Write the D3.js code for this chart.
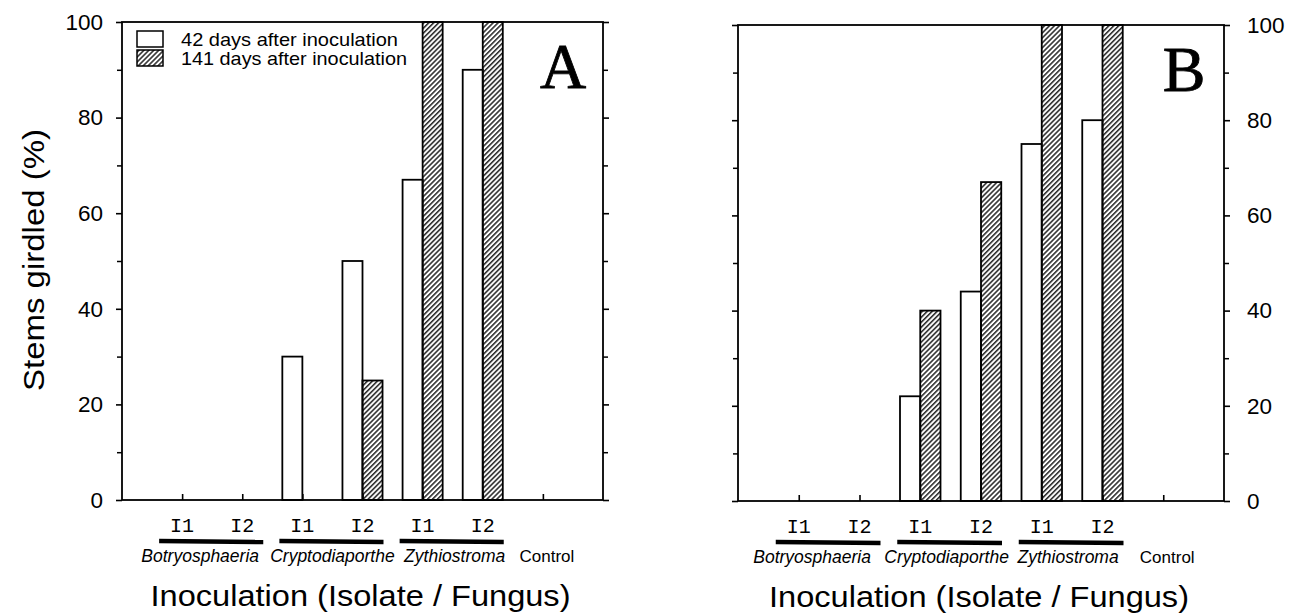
<!DOCTYPE html>
<html>
<head>
<meta charset="utf-8">
<script src="https://cdn.jsdelivr.net/npm/d3@7"></script>
<style>
  html, body { margin: 0; padding: 0; background: #fff; }
  svg { display: block; }
  text { font-family: "Liberation Sans", Arial, Helvetica, sans-serif; fill: #000; }
</style>
</head>
<body>
<svg id="chart" width="1302" height="614"></svg>
<script>
// ---------- data ----------
const isolates = ["I1", "I2", "I1", "I2", "I1", "I2", "Control"];
const fungi = ["Botryosphaeria", "Cryptodiaporthe", "Zythiostroma"];
const seriesNames = ["42 days after inoculation", "141 days after inoculation"];
const panelA_42 = [0, 0, 30, 50, 67, 90, 0];
const panelA_141 = [0, 0, 0, 25, 100, 100, 0];
const panelB_42 = [0, 0, 22, 44, 75, 80, 0];
const panelB_141 = [0, 0, 40, 67, 100, 100, 0];
const yTicks = [0, 20, 40, 60, 80, 100];
const yMinorTicks = [10, 30, 50, 70, 90];
const yTitle = "Stems girdled  (%)";
const xTitle = "Inoculation  (Isolate / Fungus)";

// ---------- drawing ----------
const svg = d3.select("#chart");
const defs = svg.append("defs");
defs.append("pattern")
  .attr("id", "hatch")
  .attr("patternUnits", "userSpaceOnUse")
  .attr("width", 3.5).attr("height", 3.5)
  .attr("patternTransform", "rotate(45)")
  .append("line")
  .attr("x1", 0.8).attr("y1", -1).attr("x2", 0.8).attr("y2", 5)
  .attr("stroke", "#000").attr("stroke-width", 1.3);

function panel(cfg) {
  const g = svg.append("g");
  const x = d3.scaleLinear().domain([0, isolates.length + 1]).range([cfg.left, cfg.right]);
  const y = d3.scaleLinear().domain([0, 100]).range([cfg.bottom, cfg.top]);
  const bw = x(1 / 3) - x(0);

  // bottom inward ticks at categories
  g.append("g").attr("transform", `translate(0,${cfg.bottom})`)
    .call(d3.axisTop(x).tickValues(d3.range(1, isolates.length + 1)).tickSize(6).tickFormat(""))
    .call(a => a.select(".domain").remove())
    .call(a => a.selectAll("line").attr("stroke-width", 1.6));

  // bars
  const catIdx = d3.range(isolates.length);
  g.selectAll("rect.s42").data(catIdx.filter(i => cfg.s42[i] > 0)).join("rect")
    .attr("x", i => x(i + 1) - bw).attr("width", bw)
    .attr("y", i => y(cfg.s42[i])).attr("height", i => y(0) - y(cfg.s42[i]))
    .attr("fill", "#fff").attr("stroke", "#000").attr("stroke-width", 1.8);
  g.selectAll("rect.s141").data(catIdx.filter(i => cfg.s141[i] > 0)).join("rect")
    .attr("x", i => x(i + 1)).attr("width", bw)
    .attr("y", i => y(cfg.s141[i])).attr("height", i => y(0) - y(cfg.s141[i]))
    .attr("fill", "url(#hatch)").attr("stroke", "#000").attr("stroke-width", 1.8);

  // frame
  g.append("rect")
    .attr("x", cfg.left).attr("y", cfg.top)
    .attr("width", cfg.right - cfg.left).attr("height", cfg.bottom - cfg.top)
    .attr("fill", "none").attr("stroke", "#000").attr("stroke-width", 1.8);

  // y axes (left and right), outward ticks
  const axL = g.append("g").attr("transform", `translate(${cfg.left},0)`)
    .call(d3.axisLeft(y).tickValues(yTicks).tickSize(6).tickFormat(cfg.labelSide === "left" ? d3.format("d") : ""));
  const axR = g.append("g").attr("transform", `translate(${cfg.right},0)`)
    .call(d3.axisRight(y).tickValues(yTicks).tickSize(6).tickFormat(cfg.labelSide === "right" ? d3.format("d") : ""));
  [axL, axR].forEach(a => {
    a.select(".domain").remove();
    a.selectAll("line").attr("stroke-width", 1.6);
    a.selectAll("text").style("font-size", "22.5px").style("font-family", "Liberation Sans, Arial, sans-serif");
  });
  axL.selectAll("text").attr("x", -19);
  axR.selectAll("text").attr("x", 23);
  g.append("g").attr("transform", `translate(${cfg.left},0)`)
    .call(d3.axisLeft(y).tickValues(yMinorTicks).tickSize(5).tickFormat(""))
    .call(a => { a.select(".domain").remove(); a.selectAll("line").attr("stroke-width", 1.5); });
  g.append("g").attr("transform", `translate(${cfg.right},0)`)
    .call(d3.axisRight(y).tickValues(yMinorTicks).tickSize(5).tickFormat(""))
    .call(a => { a.select(".domain").remove(); a.selectAll("line").attr("stroke-width", 1.5); });

  // isolate labels
  g.selectAll("text.iso").data(catIdx.slice(0, 6)).join("text")
    .attr("x", i => x(i + 1)).attr("y", cfg.bottom + 32)
    .attr("text-anchor", "middle")
    .style("font-family", "Liberation Mono, Courier New, monospace")
    .style("font-size", "20px")
    .text(i => isolates[i]);

  // underlines and fungus names
  fungi.forEach((f, k) => {
    const c1 = x(2 * k + 1), c2 = x(2 * k + 2);
    g.append("line")
      .attr("x1", c1 - 23).attr("x2", c2 + 21)
      .attr("y1", cfg.bottom + 41).attr("y2", cfg.bottom + 42)
      .attr("stroke", "#000").attr("stroke-width", 4.5);
    g.append("text")
      .attr("x", (c1 + c2) / 2 + cfg.nameShift[k]).attr("y", cfg.bottom + 62)
      .attr("text-anchor", "middle")
      .style("font-style", "italic").style("font-size", "17.5px")
      .text(f);
  });
  g.append("text")
    .attr("x", x(7) + 4).attr("y", cfg.bottom + 62)
    .attr("text-anchor", "middle").style("font-size", "17px")
    .text(isolates[6]);

  // x title
  g.append("text")
    .attr("x", (cfg.left + cfg.right) / 2 - 2).attr("y", cfg.bottom + 106)
    .attr("text-anchor", "middle").style("font-size", "29px")
    .attr("textLength", 420).attr("lengthAdjust", "spacingAndGlyphs")
    .text(xTitle);

  // panel letter
  g.append("text")
    .attr("x", cfg.right - 40).attr("y", cfg.top + 66)
    .attr("text-anchor", "middle")
    .style("font-family", "Liberation Serif, Times New Roman, serif")
    .style("font-size", "64px")
    .attr("stroke", "#000").attr("stroke-width", 0.8)
    .text(cfg.letter);
  return { x, y, g };
}

const A = panel({
  left: 122, right: 603, top: 22, bottom: 500,
  s42: panelA_42, s141: panelA_141, labelSide: "left", letter: "A",
  nameShift: [-12, 0, 2]
});
const B = panel({
  left: 738, right: 1224, top: 25, bottom: 501,
  s42: panelB_42, s141: panelB_141, labelSide: "right", letter: "B",
  nameShift: [-17, -4, -4]
});

// y title (panel A)
svg.append("text")
  .attr("transform", "translate(44,260) rotate(-90)")
  .attr("text-anchor", "middle").style("font-size", "30px")
  .attr("textLength", 262).attr("lengthAdjust", "spacingAndGlyphs")
  .text(yTitle);

// legend (panel A)
const lg = A.g.append("g");
const legendRows = [{ name: seriesNames[0], fill: "#fff", y: 31, w: 217 }, { name: seriesNames[1], fill: "url(#hatch)", y: 50, w: 226 }];
legendRows.forEach(r => {
  lg.append("rect").attr("x", 137).attr("y", r.y).attr("width", 26).attr("height", 16)
    .attr("fill", r.fill).attr("stroke", "#000").attr("stroke-width", 1.5);
  lg.append("text").attr("x", 181).attr("y", r.y + 15)
    .style("font-size", "18.5px")
    .attr("textLength", r.w).attr("lengthAdjust", "spacingAndGlyphs")
    .text(r.name);
});
</script>
</body>
</html>
